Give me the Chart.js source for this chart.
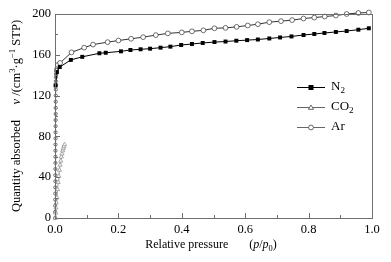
<!DOCTYPE html>
<html lang="en">
<head>
    <meta charset="UTF-8">
    <title>Adsorption isotherms</title>
    <script src="https://cdn.jsdelivr.net/npm/chart.js"></script>
    <style>
        body { margin: 0; background: #fff; }
        #wrap { width: 391px; height: 262px; }
    </style>
</head>
<body>
<div id="wrap"><canvas id="grafica"></canvas></div>
<script>
    // N2 isotherm (p/p0, quantity)
    const n2X = [0.002, 0.006, 0.015, 0.05, 0.086, 0.14, 0.16, 0.208, 0.238, 0.27, 0.30, 0.333, 0.364, 0.398, 0.432, 0.466, 0.503, 0.538, 0.572, 0.606, 0.64, 0.676, 0.71, 0.746, 0.784, 0.818, 0.85, 0.886, 0.92, 0.957, 0.99];
    const n2Y = [130, 143, 148, 155, 158, 161.5, 162, 163.4, 164.7, 165.4, 166, 167, 168, 169.6, 170.6, 171.6, 172.5, 173, 173.8, 174.4, 175, 176, 177, 178, 179.4, 180.4, 181.4, 182.4, 183.3, 184.6, 186];

    // CO2 isotherm
    const co2X = [0.001, 0.002, 0.003, 0.004, 0.006, 0.008, 0.010, 0.012, 0.014, 0.016, 0.018, 0.020, 0.022, 0.024, 0.026, 0.028, 0.030];
    const co2Y = [0, 5, 10, 15, 20, 28, 35, 41, 47, 52, 56, 60, 63, 66, 68, 70, 72];

    // Ar isotherm
    const arX = [0.0004, 0.0005, 0.0006, 0.0007, 0.0008, 0.0009, 0.001, 0.0011, 0.0012, 0.0013, 0.0014, 0.0015, 0.0016, 0.0017, 0.0018, 0.0019, 0.002, 0.0021, 0.0022, 0.0023, 0.0024, 0.0025, 0.0026, 0.0027, 0.0028, 0.003, 0.0035, 0.004, 0.006, 0.009, 0.016, 0.052, 0.092, 0.12, 0.166, 0.20, 0.24, 0.278, 0.318, 0.356, 0.40, 0.432, 0.468, 0.503, 0.538, 0.573, 0.608, 0.64, 0.676, 0.713, 0.748, 0.784, 0.818, 0.851, 0.886, 0.92, 0.957, 0.99];
    const arY = [0, 6, 12, 18, 24, 30, 36, 42, 48, 54, 60, 66, 72, 78, 84, 90, 96, 102, 108, 114, 120, 126, 130, 134, 138, 141, 144, 146, 148, 150, 152, 162.4, 167, 170, 172.4, 174, 175.7, 177.3, 179.3, 181, 182, 183, 184, 186, 186.4, 187.4, 188.7, 190, 192, 193, 194, 195.6, 196.5, 197.5, 198.5, 200, 201, 201.5];

    const xTicks = [0, 0.2, 0.4, 0.6, 0.8, 1.0];
    const yTicks = [0, 40, 80, 120, 160, 200];

    function puntos(xs, ys) {
        return xs.map((x, i) => ({ x: x, y: ys[i] }));
    }

    const serif = '"Liberation Serif", "Times New Roman", Tinos, serif';

    // draws text made of pieces (italic, subscript, superscript)
    function textoRico(ctx, partes, x, y, size, align) {
        let ancho = 0;
        partes.forEach(p => {
            const s = (p.sub || p.sup) ? size * 0.7 : size;
            ctx.font = (p.it ? 'italic ' : '') + s + 'px ' + serif;
            p.w = ctx.measureText(p.t).width;
            ancho += p.w;
        });
        let cx = align === 'center' ? x - ancho / 2 : x;
        partes.forEach(p => {
            const s = (p.sub || p.sup) ? size * 0.7 : size;
            ctx.font = (p.it ? 'italic ' : '') + s + 'px ' + serif;
            let dy = 0;
            if (p.sub) dy = size * 0.3;
            if (p.sup) dy = -size * 0.35;
            ctx.fillText(p.t, cx, y + dy);
            cx += p.w;
        });
    }

    function marcador(ctx, tipo, x, y) {
        ctx.beginPath();
        if (tipo === 'rect') {
            ctx.fillStyle = '#000';
            ctx.fillRect(x - 2.5, y - 2.5, 5, 5);
            return;
        }
        if (tipo === 'circle') {
            ctx.arc(x, y, 2.4, 0, Math.PI * 2);
        } else {
            ctx.moveTo(x, y - 2.5);
            ctx.lineTo(x + 2.6, y + 1.8);
            ctx.lineTo(x - 2.6, y + 1.8);
            ctx.closePath();
        }
        ctx.fillStyle = '#fff';
        ctx.fill();
        ctx.stroke();
    }

    const extras = {
        id: 'extras',
        afterDraw(chart) {
            const { ctx, chartArea: a, scales } = chart;
            const sx = scales.x, sy = scales.y;
            ctx.save();
            // frame
            ctx.strokeStyle = '#6f6f6f';
            ctx.lineWidth = 1;
            ctx.strokeRect(Math.round(a.left) + 0.5, Math.round(a.top) + 0.5,
                Math.round(a.right - a.left), Math.round(a.bottom - a.top));
            // inward ticks
            ctx.beginPath();
            for (let i = 0; i <= 10; i++) {
                const px = Math.round(sx.getPixelForValue(i / 10)) + 0.5;
                const len = i % 2 === 0 ? 5 : 3;
                ctx.moveTo(px, a.bottom);
                ctx.lineTo(px, a.bottom - len);
            }
            for (let v = 0; v <= 200; v += 20) {
                const py = Math.round(sy.getPixelForValue(v)) + 0.5;
                const len = v % 40 === 0 ? 5 : 3;
                ctx.moveTo(a.left, py);
                ctx.lineTo(a.left + len, py);
            }
            ctx.stroke();

            // legend
            ctx.textBaseline = 'middle';
            const filas = [
                { tipo: 'rect', partes: [{ t: 'N' }, { t: '2', sub: true }], y: 87, color: '#000' },
                { tipo: 'triangle', partes: [{ t: 'CO' }, { t: '2', sub: true }], y: 107, color: '#666' },
                { tipo: 'circle', partes: [{ t: 'Ar' }], y: 127, color: '#666' }
            ];
            filas.forEach(f => {
                ctx.strokeStyle = f.color;
                ctx.lineWidth = 1;
                ctx.beginPath();
                ctx.moveTo(297, f.y + 0.5);
                ctx.lineTo(325, f.y + 0.5);
                ctx.stroke();
                marcador(ctx, f.tipo, 311, f.y + 0.5);
                ctx.fillStyle = '#000';
                textoRico(ctx, f.partes, 331, f.y, 13, 'left');
            });

            // x title
            ctx.fillStyle = '#000';
            textoRico(ctx, [
                { t: 'Relative pressure       (' }, { t: 'p', it: true }, { t: '/' },
                { t: 'p', it: true }, { t: '0', sub: true }, { t: ')' }
            ], 211, 245, 12, 'center');

            // y title
            ctx.translate(17, 116);
            ctx.rotate(-Math.PI / 2);
            textoRico(ctx, [
                { t: 'Quantity absorbed     ' }, { t: 'v', it: true }, { t: ' /(cm' },
                { t: '3', sup: true }, { t: '\u00b7g' }, { t: '\u22121', sup: true }, { t: ' STP)' }
            ], 0, 0, 12.5, 'center');
            ctx.restore();
        }
    };

    function dibujar() {
        const ctx = document.getElementById('grafica').getContext('2d');
        new Chart(ctx, {
            type: 'scatter',
            data: {
                datasets: [
                    {
                        label: 'N2',
                        data: puntos(n2X, n2Y),
                        showLine: true,
                        borderColor: '#000',
                        backgroundColor: '#000',
                        borderWidth: 1,
                        pointStyle: 'rect',
                        pointRadius: 2.8,
                        pointBorderWidth: 0
                    },
                    {
                        label: 'CO2',
                        data: puntos(co2X, co2Y),
                        showLine: true,
                        borderColor: '#888',
                        backgroundColor: '#fff',
                        borderWidth: 0.8,
                        pointStyle: 'triangle',
                        pointRadius: 2.4,
                        pointBorderWidth: 0.7
                    },
                    {
                        label: 'Ar',
                        data: puntos(arX, arY),
                        showLine: true,
                        borderColor: '#333',
                        backgroundColor: '#fff',
                        borderWidth: 1,
                        pointStyle: 'circle',
                        pointRadius: c => (c.raw && c.raw.y < 150 ? 1.6 : 2.4),
                        pointBorderWidth: 0.7
                    }
                ]
            },
            options: {
                responsive: true,
                maintainAspectRatio: false,
                animation: false,
                clip: false,
                layout: { padding: { top: 14, right: 19, left: 0, bottom: 0 } },
                plugins: { legend: { display: false }, tooltip: { enabled: false } },
                scales: {
                    x: {
                        type: 'linear', min: 0, max: 1,
                        afterFit: s => { s.height = 44; },
                        afterBuildTicks: s => { s.ticks = xTicks.map(v => ({ value: v })); },
                        grid: { display: false, drawTicks: false },
                        border: { display: false },
                        ticks: {
                            padding: 4, color: '#000',
                            font: { family: serif, size: 12.5 },
                            callback: v => v.toFixed(1)
                        }
                    },
                    y: {
                        type: 'linear', min: 0, max: 200,
                        afterFit: s => { s.width = 55; },
                        afterBuildTicks: s => { s.ticks = yTicks.map(v => ({ value: v })); },
                        grid: { display: false, drawTicks: false },
                        border: { display: false },
                        ticks: {
                            padding: 4, color: '#000',
                            font: { family: serif, size: 12.5 }
                        }
                    }
                }
            },
            plugins: [extras]
        });
    }

    Promise.all([
        document.fonts.load('13px "Liberation Serif"'),
        document.fonts.load('italic 13px "Liberation Serif"')
    ]).then(dibujar, dibujar);
</script>
</body>
</html>
